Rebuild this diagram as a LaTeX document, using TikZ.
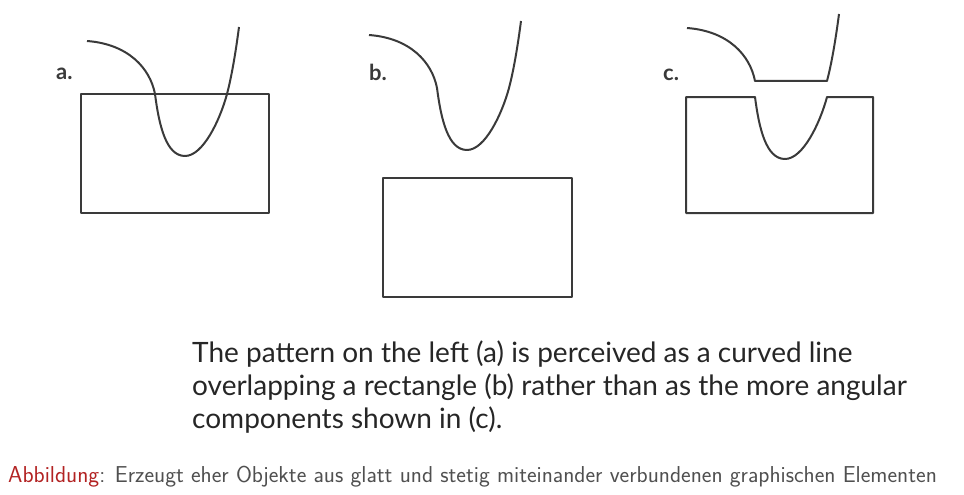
\documentclass[tikz,border=0pt]{standalone}
\usepackage{fontspec}
\newfontfamily\scanfont{Lato}
\definecolor{ink}{RGB}{58,58,58}
\definecolor{abbred}{RGB}{178,34,34}
\definecolor{captgray}{RGB}{80,80,80}

% pieces of the curve (pixel units, y downwards)
\newcommand{\armL}{(87,41) .. controls (128,44) and (150,68) .. (155,94)}
\newcommand{\valley}{.. controls (159,125) and (166,156) .. (185,156) .. controls (203,156) and (220,120) .. (227,94)}
\newcommand{\armR}{.. controls (232,75) and (236,50) .. (239,27)}

\begin{document}
\begin{tikzpicture}[x=1pt,y=-1pt,
  figline/.style={draw=ink,line width=2pt,line join=round},
  panellabel/.style={anchor=base west,inner sep=0pt,text=ink,font=\scanfont\bfseries\fontsize{22}{26}\selectfont},
  scantext/.style={anchor=base west,inner sep=0pt,text=black!85,font=\scanfont\fontsize{28}{33}\selectfont}]
  \useasboundingbox (0,0) rectangle (964,495);

  % a.
  \node[panellabel] (labA) at (56,80) {a.};
  \draw[figline] (81,94) rectangle (269,213);
  \draw[figline] \armL \valley \armR;

  % b.
  \node[panellabel] (labB) at (369,81) {b.};
  \draw[figline] (383,178) rectangle (572,297);
  \draw[figline,shift={(282,-6)}] \armL \valley \armR;

  % c.
  \node[panellabel] (labC) at (663,81) {c.};
  \draw[figline,shift={(600,-13)}] \armL -- (227,94) \armR;
  \draw[figline,shift={(600,3)}] (86,94) -- (155,94) \valley -- (273,94) -- (273,210) -- (86,210) -- cycle;

  \node[scantext] (note1) at (192,362) {The pattern on the left (a) is perceived as a curved line};
  \node[scantext] (note2) at (192,395) {overlapping a rectangle (b) rather than as the more angular};
  \node[scantext] (note3) at (192,428) {components shown in (c).};

  \node[anchor=base west,inner sep=0pt,font=\sffamily\fontsize{23}{27}\selectfont,text=captgray] (caption) at (8,482)
    {\textcolor{abbred}{Abbildung}: Erzeugt eher Objekte aus glatt und stetig miteinander verbundenen graphischen Elementen};
\end{tikzpicture}
\end{document}
